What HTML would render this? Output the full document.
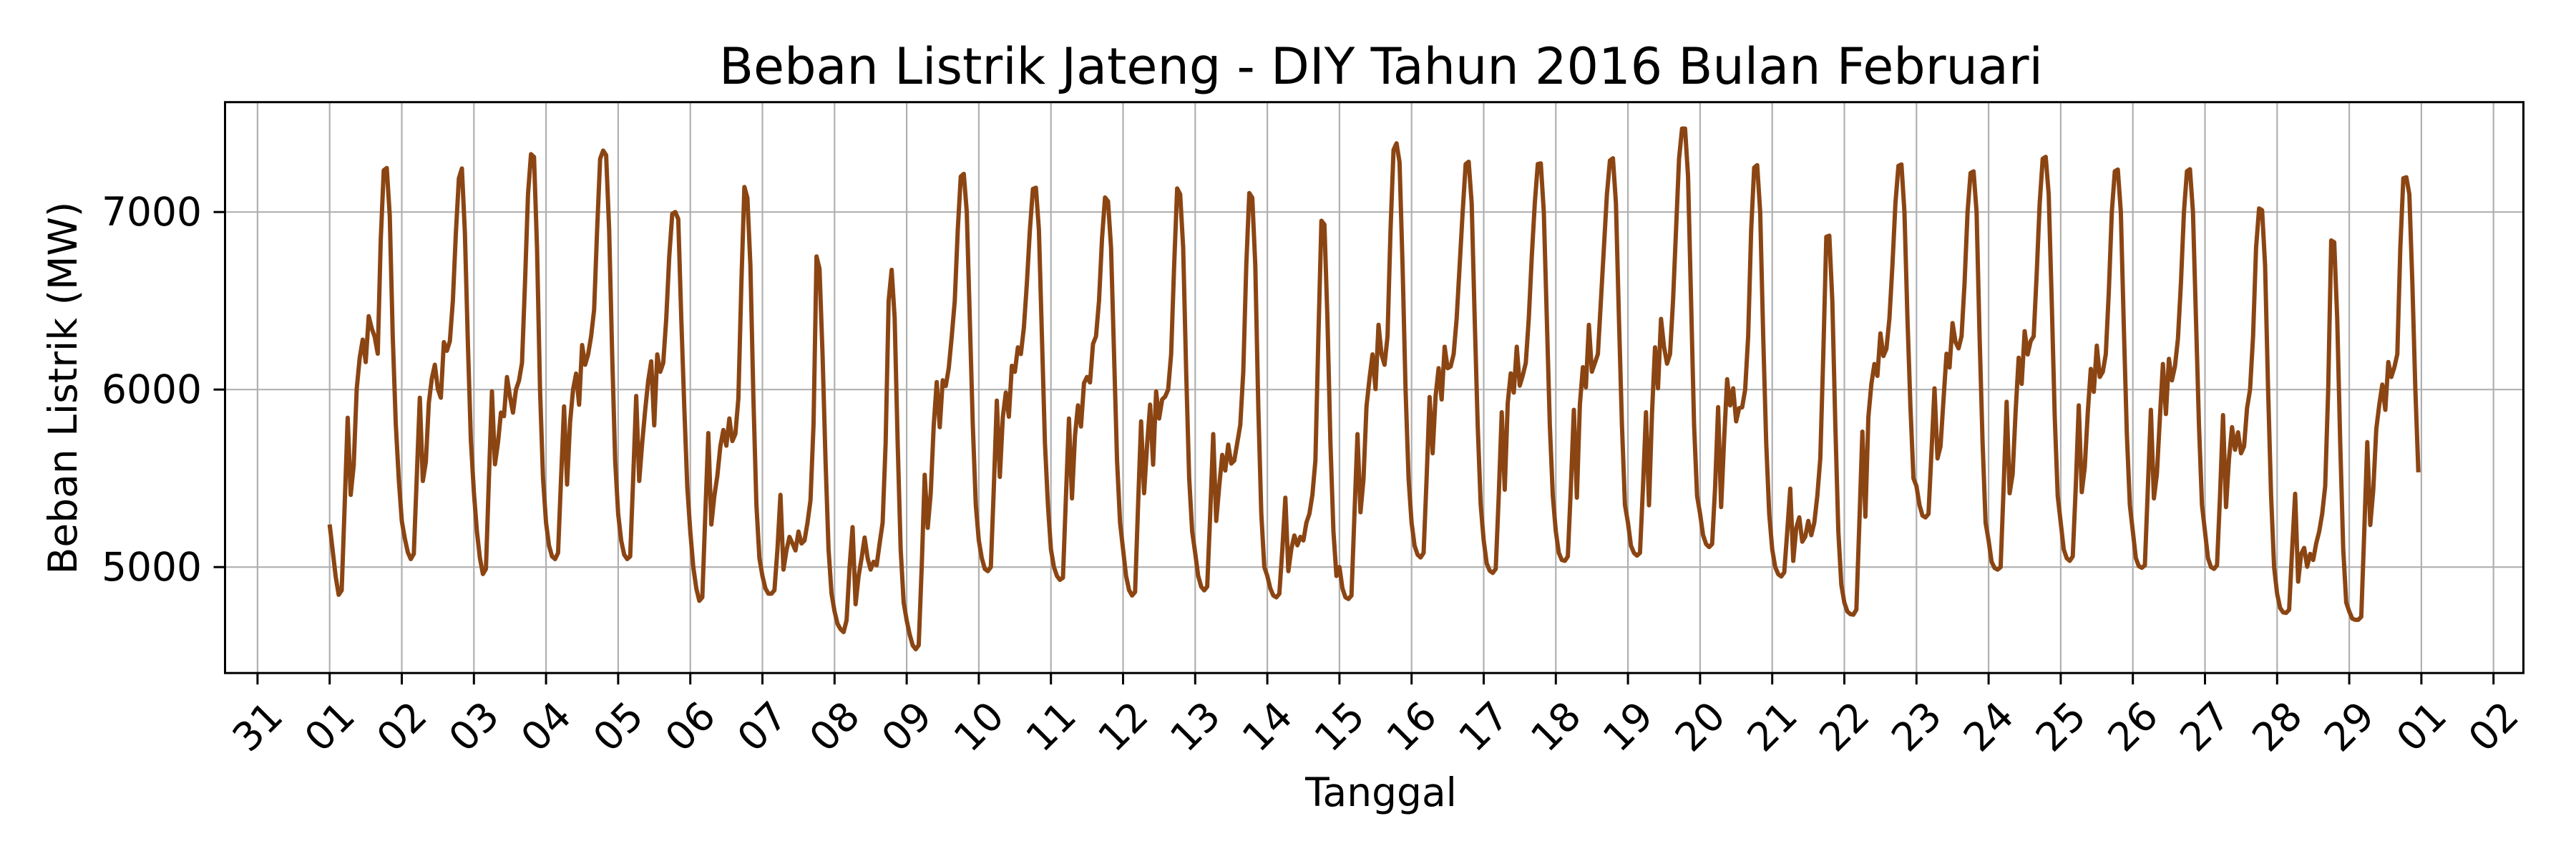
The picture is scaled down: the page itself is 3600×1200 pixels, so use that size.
<!DOCTYPE html>
<html>
<head>
<meta charset="utf-8">
<style>
  html, body { margin:0; padding:0; background:#fff; }
  svg { display:block; }
  text { font-family: "DejaVu Sans", "Liberation Sans", sans-serif; fill:#000; }
</style>
</head>
<body>
<svg id="chart" width="3600" height="1200" viewBox="0 0 3600 1200" xmlns="http://www.w3.org/2000/svg">
  <rect x="0" y="0" width="3600" height="1200" fill="#ffffff"/>
  <g id="grid"></g>
  <g id="series"></g>
  <rect x="314.5" y="142.7" width="3212" height="797.5" fill="none" stroke="#000" stroke-width="3"/>
  <g id="xticks"></g>
  <g id="yticks"></g>
  <text x="1930" y="117" font-size="70" text-anchor="middle">Beban Listrik Jateng - DIY Tahun 2016 Bulan Februari</text>
  <text x="1930" y="1126" font-size="55" text-anchor="middle">Tanggal</text>
  <text transform="translate(107,542) rotate(-90)" x="0" y="0" font-size="55" text-anchor="middle">Beban Listrik (MW)</text>
</svg>
<script>
// ---- data (hourly load, MW, per day of Feb 2016) ----
const day01 = [5240,5094,4947,4844,4869,5350,5841,5407,5573,6003,6179,6281,6155,6413,6345,6296,6202,6844,7235,7248,6980,6296,5807,5495];
const day02 = [5260,5162,5084,5045,5074,5514,5954,5485,5592,5925,6062,6140,6003,5954,6267,6218,6273,6501,6883,7190,7245,6883,6257,5710];
const day03 = [5420,5200,5050,4961,4990,5500,5990,5579,5700,5870,5850,6070,5960,5870,6000,6050,6150,6600,7100,7326,7310,6800,6000,5500];
const day04 = [5250,5120,5060,5045,5080,5500,5905,5465,5817,6000,6090,5915,6251,6140,6198,6300,6450,6900,7300,7346,7320,6900,6200,5600];
const day05 = [5300,5150,5070,5045,5060,5500,5964,5485,5700,5886,6050,6159,5798,6198,6100,6150,6400,6750,6990,7000,6960,6400,5900,5450];
const day06 = [5200,5000,4880,4810,4830,5300,5755,5240,5400,5514,5680,5772,5684,5837,5710,5750,5950,6600,7141,7080,6700,5950,5350,5050];
const day07 = [4950,4880,4850,4850,4870,5100,5407,4986,5094,5170,5133,5094,5200,5133,5150,5250,5377,5800,6750,6680,6200,5600,5100,4850];
const day08 = [4750,4680,4650,4634,4700,5000,5225,4791,4950,5050,5166,5050,4986,5030,5010,5133,5250,5700,6500,6674,6404,5700,5100,4800];
const day09 = [4700,4620,4560,4537,4560,5000,5520,5221,5416,5798,6042,5788,6052,6020,6120,6300,6500,6900,7200,7215,7000,6400,5800,5350];
const day10 = [5150,5050,4990,4977,5000,5450,5938,5508,5847,5983,5847,6134,6100,6238,6200,6350,6600,6900,7130,7137,6900,6300,5700,5350];
const day11 = [5100,5000,4950,4928,4940,5400,5837,5387,5739,5911,5792,6036,6071,6040,6257,6300,6500,6850,7082,7060,6800,6200,5600,5250];
const day12 = [5100,4950,4870,4840,4860,5350,5821,5416,5690,5915,5577,5989,5837,5944,5960,6000,6200,6700,7133,7100,6800,6100,5500,5200];
const day13 = [5080,4950,4890,4869,4890,5300,5749,5260,5456,5632,5544,5690,5583,5600,5700,5800,6100,6700,7107,7080,6700,5900,5300,5000];
const day14 = [4950,4880,4840,4830,4850,5100,5391,4977,5104,5178,5123,5170,5150,5250,5300,5407,5600,6300,6951,6930,6400,5700,5200,4950];
const day15 = [5000,4880,4830,4820,4840,5300,5749,5309,5495,5905,6062,6198,6003,6365,6198,6140,6300,6900,7350,7387,7280,6700,6000,5500];
const day16 = [5250,5120,5070,5054,5080,5500,5958,5641,5964,6120,5944,6241,6120,6130,6200,6400,6700,7000,7270,7283,7050,6400,5800,5350];
const day17 = [5150,5020,4980,4967,4990,5400,5872,5436,5925,6091,5983,6241,6022,6080,6150,6400,6750,7050,7270,7274,7000,6400,5800,5400];
const day18 = [5200,5080,5040,5035,5060,5450,5886,5391,5915,6126,6013,6365,6101,6150,6200,6500,6800,7100,7290,7303,7050,6400,5800,5350];
const day19 = [5250,5120,5080,5065,5080,5450,5872,5348,5866,6238,6007,6398,6241,6146,6200,6500,6900,7300,7470,7470,7200,6500,5800,5400];
const day20 = [5300,5180,5130,5113,5130,5450,5901,5338,5720,6058,5911,6007,5821,5895,5900,6000,6300,6900,7250,7264,7000,6300,5700,5300];
const day21 = [5100,5000,4960,4947,4970,5200,5442,5035,5221,5280,5143,5172,5260,5180,5250,5400,5612,6200,6860,6867,6500,5800,5200,4900];
const day22 = [4800,4750,4735,4732,4760,5250,5763,5284,5847,6032,6144,6077,6316,6189,6230,6400,6700,7050,7260,7268,7000,6400,5900,5500];
const day23 = [5456,5350,5290,5280,5300,5650,6007,5612,5680,5944,6202,6124,6374,6267,6232,6300,6600,7000,7220,7229,7000,6300,5700,5250];
const day24 = [5150,5030,4995,4986,5000,5450,5931,5416,5524,5878,6179,6032,6329,6198,6273,6300,6650,7050,7300,7311,7100,6500,5850,5400];
const day25 = [5250,5100,5050,5035,5060,5450,5911,5422,5563,5870,6116,5987,6247,6071,6100,6200,6550,7000,7230,7239,7000,6350,5750,5350];
const day26 = [5200,5050,5005,4996,5010,5450,5886,5387,5524,5841,6144,5862,6173,6052,6130,6286,6600,7000,7230,7241,7000,6400,5800,5350];
const day27 = [5200,5050,5000,4990,5010,5400,5856,5338,5612,5788,5661,5759,5641,5680,5895,6000,6300,6800,7020,7010,6700,6000,5400,5000];
const day28 = [4850,4770,4745,4742,4760,5100,5413,4918,5074,5108,5002,5074,5040,5133,5200,5300,5456,6000,6840,6830,6400,5700,5100,4800];
const day29 = [4750,4710,4703,4703,4720,5200,5704,5237,5436,5778,5915,6028,5886,6155,6071,6124,6200,6800,7190,7196,7100,6600,6000,5534];
const dailyLoads = [day01,day02,day03,day04,day05,day06,day07,day08,day09,day10,day11,day12,day13,day14,day15,day16,day17,day18,day19,day20,day21,day22,day23,day24,day25,day26,day27,day28,day29];
const xTickLabels = ['31','01','02','03','04','05','06','07','08','09','10','11','12','13','14','15','16','17','18','19','20','21','22','23','24','25','26','27','28','29','01','02'];
const xTickDays = [-1,0,1,2,3,4,5,6,7,8,9,10,11,12,13,14,15,16,17,18,19,20,21,22,23,24,25,26,27,28,29,30];
const yTickValues = [5000,6000,7000];

// ---- axes ----
const NS = 'http://www.w3.org/2000/svg';
const PLOT_L = 314.5, PLOT_R = 3526.5, PLOT_T = 142.7, PLOT_B = 940.2;
function xScale(dayFloat) { return 460.7 + dayFloat * 100.8; }
function yScale(v) { return 792.2 - (v - 5000) * 0.248; }
function mk(tag, attrs) {
  const el = document.createElementNS(NS, tag);
  for (const k in attrs) el.setAttribute(k, attrs[k]);
  return el;
}
const grid = document.getElementById('grid');
const xt = document.getElementById('xticks');
const yt = document.getElementById('yticks');
const series = document.getElementById('series');

xTickDays.forEach((d, i) => {
  const x = xScale(d);
  const gl = mk('line', {x1:x, x2:x, y1:PLOT_T, y2:PLOT_B, stroke:'#b0b0b0', 'stroke-width':2.2});
  
  
  grid.appendChild(gl);
  const tk = mk('line', {x1:x, x2:x, y1:PLOT_B, y2:PLOT_B + 16, stroke:'#000', 'stroke-width':3});
  
  
  xt.appendChild(tk);
  const tx = mk('text', {x:0, y:0, 'font-size':55, 'text-anchor':'middle', 'dominant-baseline':'central',
    transform:'translate(' + x + ',1015) rotate(-45)'});
  tx.textContent = xTickLabels[i];
  
  
  xt.appendChild(tx);
});

yTickValues.forEach(v => {
  const y = yScale(v);
  const gl = mk('line', {x1:PLOT_L, x2:PLOT_R, y1:y, y2:y, stroke:'#b0b0b0', 'stroke-width':2.2});
  
  
  grid.appendChild(gl);
  const tk = mk('line', {x1:PLOT_L - 16, x2:PLOT_L, y1:y, y2:y, stroke:'#000', 'stroke-width':3});
  
  
  yt.appendChild(tk);
  const tx = mk('text', {x:282, y:y, 'font-size':55, 'text-anchor':'end', 'dominant-baseline':'central'});
  tx.textContent = String(v);
  
  
  yt.appendChild(tx);
});

// ---- series ----
let pts = [];
dailyLoads.forEach((dayVals, d) => {
  dayVals.forEach((v, h) => {
    pts.push(xScale(d + h / 24).toFixed(1) + ',' + yScale(v).toFixed(1));
  });
});
const line = mk('polyline', {points: pts.join(' '), fill:'none', stroke:'#8b4513', 'stroke-width':6, 'stroke-linejoin':'round'});


series.appendChild(line);
</script>
</body>
</html>
